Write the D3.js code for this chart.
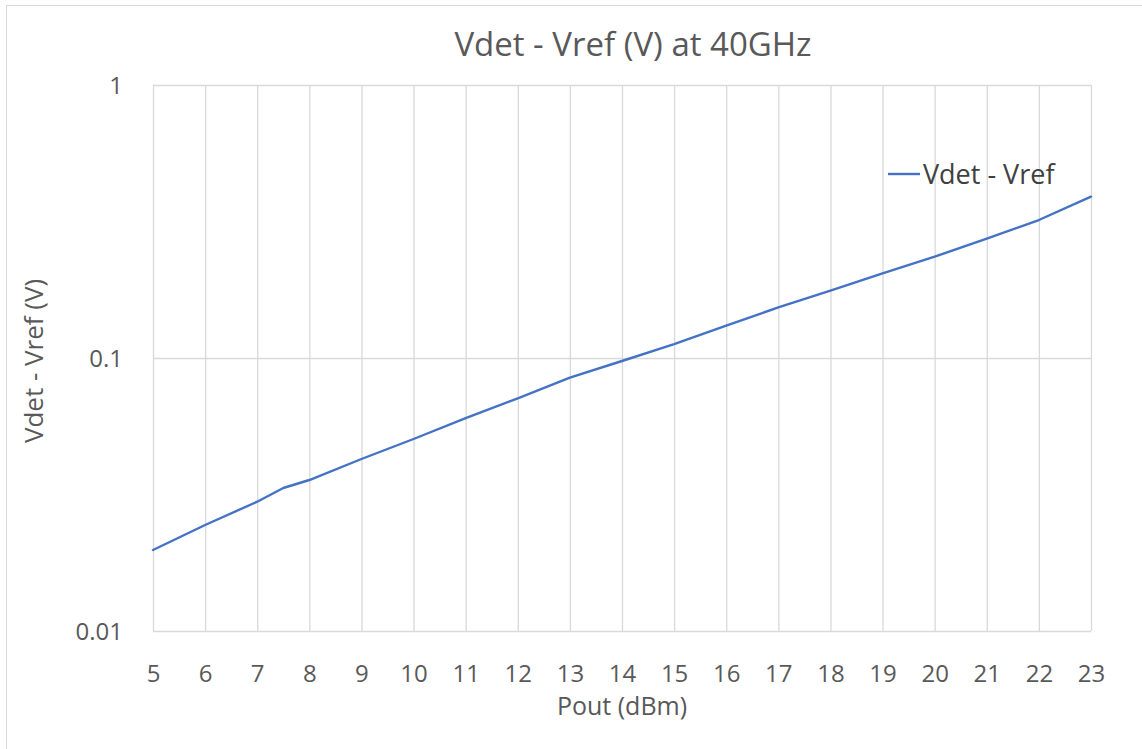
<!DOCTYPE html>
<html>
<head>
<meta charset="utf-8">
<script src="https://cdn.jsdelivr.net/npm/d3@7"></script>
<style>
  html, body { margin: 0; padding: 0; background: #ffffff; }
  svg { display: block; }
  text { font-family: "Open Sans", "Noto Sans", sans-serif; }
</style>
</head>
<body>
<svg id="chart" width="1142" height="749"></svg>
<script>
// ---- data ----
const poutDbm = [5, 6, 7, 7.5, 8, 9, 10, 11, 12, 13, 14, 15, 16, 17, 18, 19, 20, 21, 22, 23];
const vdetMinusVref = [0.0198, 0.02445, 0.02976, 0.0334, 0.03573, 0.04266, 0.0505, 0.06028, 0.07117, 0.08471,
                       0.0975, 0.1125, 0.1313, 0.1533, 0.1764, 0.2043, 0.235, 0.2735, 0.3202, 0.3898];
const xTickValues = [5, 6, 7, 8, 9, 10, 11, 12, 13, 14, 15, 16, 17, 18, 19, 20, 21, 22, 23];
const yTickValues = [0.01, 0.1, 1];
const yTickLabels = ["0.01", "0.1", "1"];
const chartTitle = "Vdet - Vref (V) at 40GHz";
const xAxisTitle = "Pout (dBm)";
const yAxisTitle = "Vdet - Vref (V)";
const seriesName = "Vdet - Vref";

// ---- layout ----
const svg = d3.select("#chart");
const plot = { left: 153, right: 1091, top: 85, bottom: 631 };
const gridColor = "#d9d9d9";
const textColor = "#595959";
const lineColor = "#4472C4";

// outer chart border
svg.append("rect")
  .attr("x", 6.5).attr("y", 5.5)
  .attr("width", 1300).attr("height", 900)
  .attr("fill", "#ffffff")
  .attr("stroke", gridColor).attr("stroke-width", 1);

const x = d3.scaleLinear().domain([5, 23]).range([plot.left, plot.right]);
const y = d3.scaleLog().domain([0.01, 1]).range([plot.bottom, plot.top]);

// vertical gridlines
svg.append("g")
  .attr("transform", `translate(0,${plot.bottom})`)
  .call(d3.axisBottom(x).tickValues(xTickValues).tickSize(-(plot.bottom - plot.top)).tickFormat(""))
  .call(g => g.select(".domain").remove())
  .call(g => g.selectAll("line").attr("stroke", gridColor).attr("stroke-width", 1.3));

// horizontal gridlines
svg.append("g")
  .attr("transform", `translate(${plot.left},0)`)
  .call(d3.axisLeft(y).tickValues(yTickValues).tickSize(-(plot.right - plot.left)).tickFormat(""))
  .call(g => g.select(".domain").remove())
  .call(g => g.selectAll("line").attr("stroke", gridColor).attr("stroke-width", 1.3));

// x tick labels
svg.append("g")
  .attr("transform", `translate(0,${plot.bottom})`)
  .call(d3.axisBottom(x).tickValues(xTickValues).tickSize(0).tickPadding(0).tickFormat(d3.format("d")))
  .call(g => g.select(".domain").remove())
  .call(g => g.selectAll("text")
    .attr("y", 51).attr("dy", null)
    .attr("fill", textColor)
    .style("font-size", "24px")
    .style("font-family", "'Open Sans', sans-serif"));

// y tick labels
svg.append("g")
  .attr("transform", `translate(${plot.left},0)`)
  .call(d3.axisLeft(y).tickValues(yTickValues).tickSize(0).tickPadding(30)
    .tickFormat((d, i) => yTickLabels[i]))
  .call(g => g.select(".domain").remove())
  .call(g => g.selectAll("text")
    .attr("dy", "0.36em")
    .attr("fill", textColor)
    .style("font-size", "24px")
    .style("font-family", "'Open Sans', sans-serif"));

// data line
const line = d3.line()
  .x((d, i) => x(poutDbm[i]))
  .y(d => y(d));
svg.append("path")
  .datum(vdetMinusVref)
  .attr("d", line)
  .attr("fill", "none")
  .attr("stroke", lineColor)
  .attr("stroke-width", 2.4)
  .attr("stroke-linejoin", "round")
  .attr("stroke-linecap", "round");

// title
svg.append("text")
  .attr("x", 633).attr("y", 56)
  .attr("text-anchor", "middle")
  .attr("fill", textColor)
  .style("font-size", "33px")
  .text(chartTitle);

// x axis title
svg.append("text")
  .attr("x", (plot.left + plot.right) / 2).attr("y", 715)
  .attr("text-anchor", "middle")
  .attr("fill", textColor)
  .style("font-size", "25px")
  .text(xAxisTitle);

// y axis title
svg.append("text")
  .attr("transform", `translate(43,361) rotate(-90)`)
  .attr("text-anchor", "middle")
  .attr("fill", textColor)
  .style("font-size", "26px")
  .text(yAxisTitle);

// legend
const legend = svg.append("g").attr("transform", "translate(888,174)");
legend.append("line")
  .attr("x1", 0).attr("x2", 32).attr("y1", 0).attr("y2", 0)
  .attr("stroke", lineColor).attr("stroke-width", 2.4);
legend.append("text")
  .attr("x", 35).attr("y", 10)
  .attr("fill", "#404040")
  .style("font-size", "27px")
  .text(seriesName);
</script>
</body>
</html>
